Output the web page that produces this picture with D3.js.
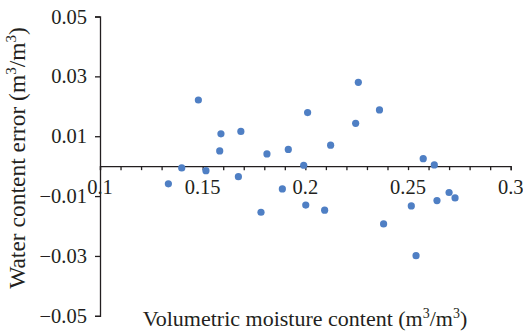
<!DOCTYPE html>
<html>
<head>
<meta charset="utf-8">
<script src="https://cdn.jsdelivr.net/npm/d3@7"></script>
<style>
  body { margin: 0; background: #fff; }
  svg { display: block; }
  text { font-family: "Liberation Serif", "DejaVu Serif", serif; fill: #231f20; }
</style>
</head>
<body>
<script>
// Data: volumetric moisture content vs. water content error
var moisture = [0.1333, 0.1398, 0.1479, 0.1516, 0.1583, 0.1589, 0.1674, 0.1686, 0.1784, 0.1813,
                0.1888, 0.1917, 0.1992, 0.2002, 0.2011, 0.2094, 0.2123, 0.2245, 0.2258, 0.2361,
                0.2381, 0.2516, 0.2539, 0.2574, 0.2628, 0.2641, 0.2700, 0.2729];
var error = [-0.0059, -0.0006, 0.0221, -0.0015, 0.0051, 0.0108, -0.0035, 0.0116, -0.0154, 0.0041,
             -0.0076, 0.0056, 0.0003, -0.0130, 0.0179, -0.0147, 0.0070, 0.0143, 0.0280, 0.0188,
             -0.0193, -0.0133, -0.0299, 0.0025, 0.0004, -0.0115, -0.0088, -0.0106];
var xTicks = [0.1, 0.15, 0.2, 0.25, 0.3];
var yTicks = [-0.05, -0.03, -0.01, 0.01, 0.03, 0.05];

var w = 523;
var h = 334;

var svg = d3.select("body")
    .append("svg")
    .attr("width", w)
    .attr("height", h);

var xScale = d3.scaleLinear()
    .domain([0.1, 0.3])
    .range([100, 510.7]);

var yScale = d3.scaleLinear()
    .domain([-0.05, 0.05])
    .range([315.8, 16.5]);

var fmt = function (d) {
    return d3.format("")(+d.toFixed(2)).replace("-", "\u2212");
};

// y axis on the left
var yAxis = d3.axisLeft(yScale)
    .tickValues(yTicks)
    .tickSize(5)
    .tickPadding(8)
    .tickFormat(fmt);

svg.append("g")
    .attr("class", "y-axis")
    .attr("transform", "translate(" + xScale(0.1) + ",0)")
    .call(yAxis);

// x axis crosses at zero, minor ticks every 0.01
var minor = d3.range(0, 21).map(function (i) { return 0.1 + i * 0.01; });

var xAxis = d3.axisBottom(xScale)
    .tickValues(minor)
    .tickSize(4)
    .tickFormat("");

svg.append("g")
    .attr("class", "x-axis")
    .attr("transform", "translate(0," + yScale(0) + ")")
    .call(xAxis);

// x tick labels below the zero line
svg.append("g")
    .selectAll("text")
    .data(xTicks)
    .enter()
    .append("text")
    .attr("x", function (d) { return xScale(d); })
    .attr("y", yScale(0) + 28)
    .attr("text-anchor", "middle")
    .attr("font-size", 20.5)
    .text(function (d) { return fmt(d); });

svg.selectAll(".domain, .tick line")
    .attr("stroke", "#231f20")
    .attr("stroke-width", 1.3);

svg.selectAll(".y-axis text")
    .attr("font-size", 20.5)
    .attr("fill", "#231f20");

// points
svg.append("g")
    .selectAll("circle")
    .data(moisture)
    .enter()
    .append("circle")
    .attr("cx", function (d) { return xScale(d); })
    .attr("cy", function (d, i) { return yScale(error[i]); })
    .attr("r", 3.6)
    .attr("fill", "#4f7fc4");

// axis titles
var xTitle = svg.append("text")
    .attr("x", 305)
    .attr("y", 326)
    .attr("text-anchor", "middle")
    .attr("font-size", 22);
xTitle.append("tspan").text("Volumetric moisture content (m");
xTitle.append("tspan").attr("dy", -8).attr("font-size", 14).text("3");
xTitle.append("tspan").attr("dy", 8).text("/m");
xTitle.append("tspan").attr("dy", -8).attr("font-size", 14).text("3");
xTitle.append("tspan").attr("dy", 8).text(")");

var yTitle = svg.append("text")
    .attr("transform", "translate(25,158) rotate(-90)")
    .attr("text-anchor", "middle")
    .attr("font-size", 23.5);
yTitle.append("tspan").text("Water content error (m");
yTitle.append("tspan").attr("dy", -9).attr("font-size", 15).text("3");
yTitle.append("tspan").attr("dy", 9).text("/m");
yTitle.append("tspan").attr("dy", -9).attr("font-size", 15).text("3");
yTitle.append("tspan").attr("dy", 9).text(")");
</script>
</body>
</html>
